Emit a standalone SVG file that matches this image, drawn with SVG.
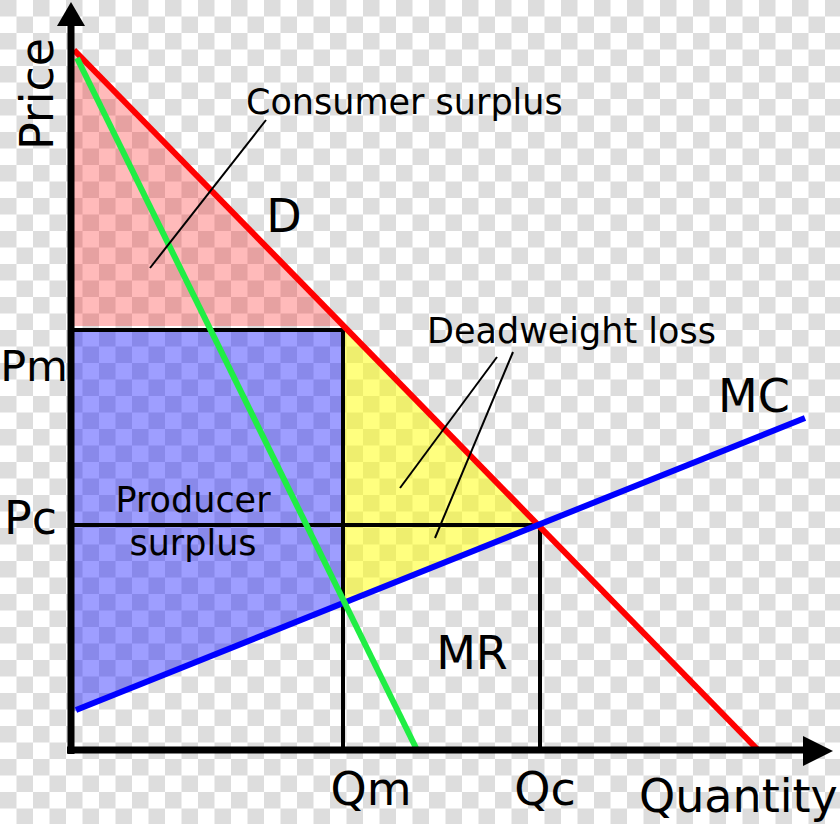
<svg xmlns="http://www.w3.org/2000/svg" width="840" height="824" viewBox="0 0 840 824">
  <defs>
    <pattern id="checker" patternUnits="userSpaceOnUse" width="33" height="33">
      <rect width="33" height="33" fill="#ffffff"/>
      <rect x="0" y="0" width="16.5" height="16.5" fill="#dddddd"/>
      <rect x="16.5" y="16.5" width="16.5" height="16.5" fill="#dddddd"/>
    </pattern>
    <style>
      .lbl { font-family: "DejaVu Sans", "Liberation Sans", sans-serif; fill: #000; }
      .small { font-size: 35px; }
      .big { font-size: 46px; }
      .box { stroke: #000; stroke-width: 4; fill: none; }
      .lead { stroke: #000; stroke-width: 2; fill: none; }
      .axis { stroke: #000; stroke-width: 7; fill: none; }
      .curve { fill: none; stroke-width: 6; stroke-linecap: butt; }
    </style>
  </defs>

  <rect id="background" x="0" y="0" width="840" height="824" fill="url(#checker)"/>

  <g id="areas">
    <polygon id="consumer-surplus-area" points="73,49 344,326 73,326" fill="#ff0000" fill-opacity="0.27"/>
    <polygon id="producer-surplus-area" points="73,331 343,331 343,602 73,712" fill="#0000ff" fill-opacity="0.38"/>
    <polygon id="deadweight-area" points="345,328 539,525 345,602" fill="#ffff00" fill-opacity="0.5"/>
  </g>

  <g id="guides">
    <polyline class="box" points="71,330 343,330 343,750"/>
    <polyline class="box" points="71,525 540,525 540,750"/>
  </g>

  <g id="curves">
    <line id="demand" class="curve" x1="74" y1="50" x2="757" y2="749" stroke="#ff0000"/>
    <line id="mc" class="curve" x1="76" y1="710" x2="805" y2="418" stroke="#0000ff"/>
    <line id="mr" class="curve" x1="77" y1="58" x2="417" y2="750" stroke="#20ee44" stroke-width="5"/>
  </g>

  <g id="axes">
    <line class="axis" x1="71" y1="754" x2="71" y2="22"/>
    <polygon points="71,2 57,26 85,26" fill="#000"/>
    <line class="axis" x1="67" y1="750" x2="806" y2="750"/>
    <polygon points="833,751 803,736 803,766" fill="#000"/>
  </g>

  <g id="leaders">
    <line class="lead" x1="266" y1="120" x2="150" y2="268"/>
    <line class="lead" x1="497" y1="357" x2="400" y2="488"/>
    <line class="lead" x1="513" y1="352" x2="435" y2="538"/>
  </g>

  <g id="labels">
    <text class="lbl big" transform="translate(53,94) rotate(-90)" text-anchor="middle">Price</text>
    <text class="lbl small" x="246" y="114">Consumer surplus</text>
    <text class="lbl big" x="284" y="232" text-anchor="middle">D</text>
    <text class="lbl small" x="427" y="343">Deadweight loss</text>
    <text class="lbl" style="font-size:43px" x="68" y="381" text-anchor="end">Pm</text>
    <text class="lbl big" x="57" y="534" text-anchor="end">Pc</text>
    <text class="lbl small" x="193" y="512" text-anchor="middle">Producer</text>
    <text class="lbl small" x="193" y="555" text-anchor="middle">surplus</text>
    <text class="lbl big" x="754" y="412" text-anchor="middle">MC</text>
    <text class="lbl big" x="472" y="669" text-anchor="middle">MR</text>
    <text class="lbl big" x="371" y="805" text-anchor="middle">Qm</text>
    <text class="lbl big" x="545" y="805" text-anchor="middle">Qc</text>
    <text class="lbl big" x="639" y="812">Quantity</text>
  </g>
</svg>
